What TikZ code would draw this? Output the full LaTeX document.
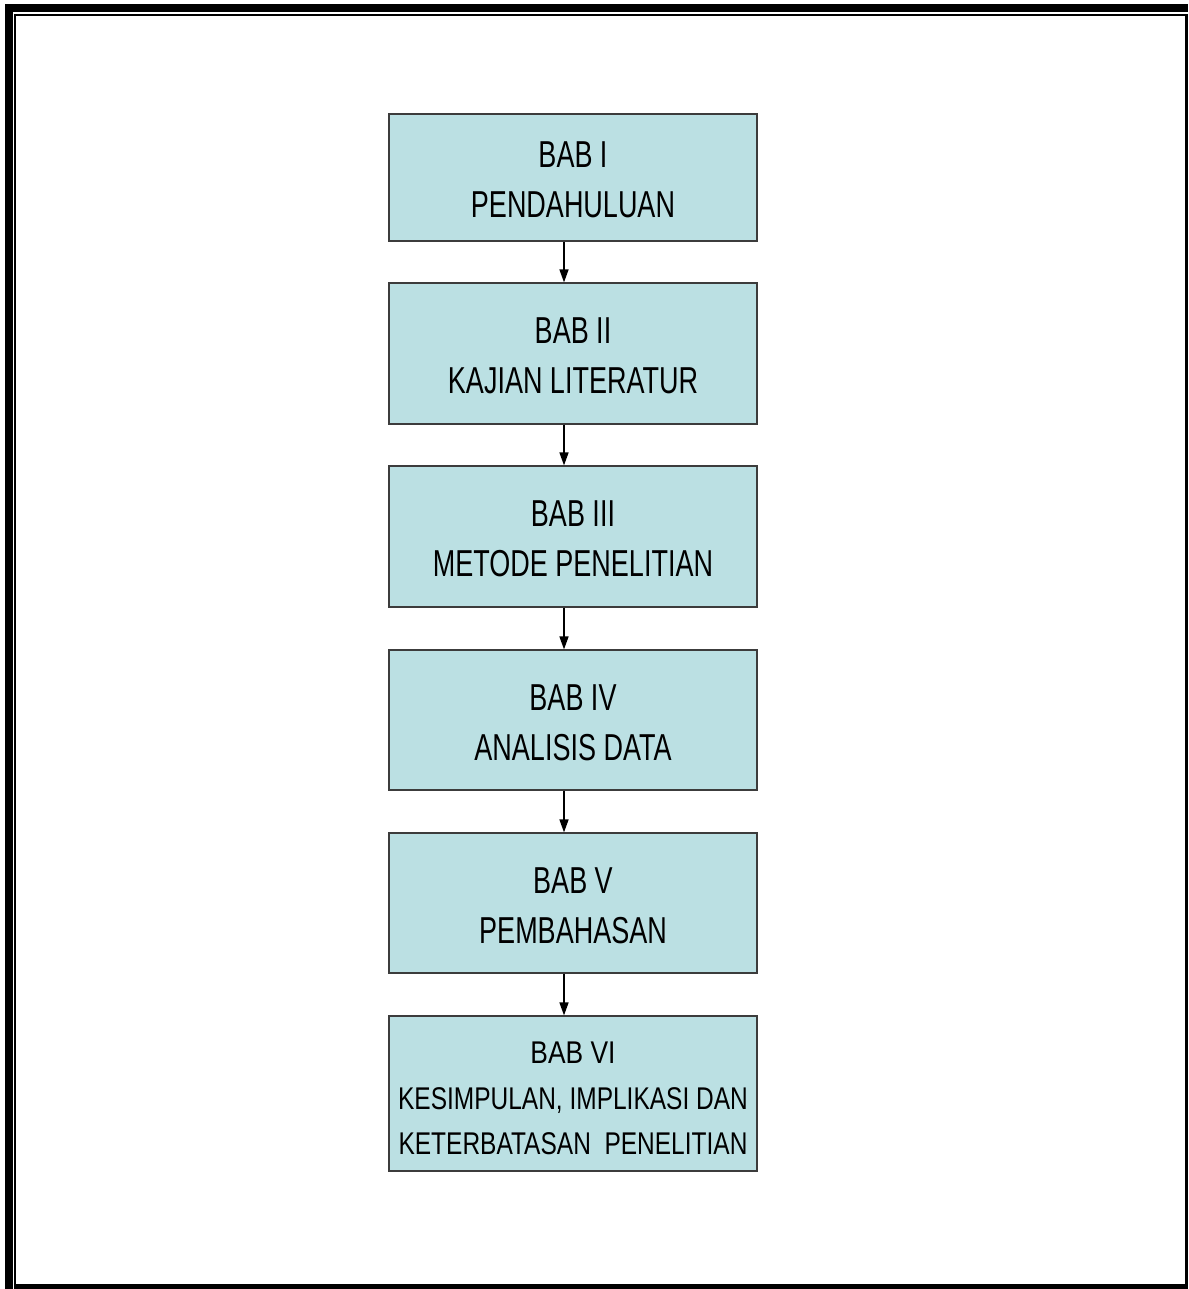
\documentclass[tikz,border=0pt]{standalone}
\usepackage{fontspec}
\usetikzlibrary{arrows.meta}
\newfontfamily\chapfont[FakeStretch=0.72]{Liberation Sans}
\newfontfamily\chapfontwide[FakeStretch=0.78]{Liberation Sans}
\newfontfamily\chapfontwider[FakeStretch=0.84]{Liberation Sans}
\definecolor{boxfill}{RGB}{187,224,227}
\definecolor{boxline}{RGB}{60,60,60}
\tikzset{
  chapbox/.style={draw=boxline, line width=1.2pt, fill=boxfill,
    minimum width=368pt, inner sep=0pt},
  chaptext/.style={inner sep=0pt, align=center,
    font=\chapfont\fontsize{37.5}{50}\selectfont},
  lasttext/.style={chaptext, font=\chapfontwide\fontsize{31.4}{45.5}\selectfont},
  flow/.style={line width=1.5pt, -{Triangle[length=13pt,width=9pt]}},
  framebar/.style={fill=black, draw=none}
}
\begin{document}
\begin{tikzpicture}[x=1pt,y=-1pt]
\useasboundingbox (0,0) rectangle (1188,1289);
% page border: thick outer frame, thin inner frame
\fill[framebar] (5,4) rectangle (13,1289);
\fill[framebar] (5,4) rectangle (1188,12);
\fill[framebar] (14,14) rectangle (16,1289);
\fill[framebar] (14,14) rectangle (1185,16);
\fill[framebar] (1185,14) rectangle (1188,1289);
\fill[framebar] (14,1284) rectangle (1188,1289);
% chapter boxes
\node[chapbox, minimum height=127pt] (b1) at (573,177.5) {};
\node[chapbox, minimum height=141pt] (b2) at (573,353.5) {};
\node[chapbox, minimum height=141pt] (b3) at (573,536.5) {};
\node[chapbox, minimum height=140pt] (b4) at (573,720) {};
\node[chapbox, minimum height=140pt] (b5) at (573,903) {};
\node[chapbox, minimum height=155pt] (b6) at (573,1093.5) {};
% chapter titles
\node[chaptext] (t1) at ([yshift=-2.5pt]b1.center) {BAB I\\PENDAHULUAN};
\node[chaptext] (t2) at ([yshift=-2.5pt]b2.center) {BAB II\\KAJIAN LITERATUR};
\node[chaptext] (t3) at ([yshift=-2.5pt]b3.center) {BAB III\\METODE PENELITIAN};
\node[chaptext] (t4) at ([yshift=-2.5pt]b4.center) {BAB IV\\ANALISIS DATA};
\node[chaptext] (t5) at ([yshift=-2.5pt]b5.center) {BAB V\\PEMBAHASAN};
\node[lasttext] (t6) at ([yshift=-5pt]b6.center) {{\chapfontwider BAB VI}\\KESIMPULAN, IMPLIKASI DAN\\KETERBATASAN\ \ PENELITIAN};
% connectors
\coordinate (ax) at (564,0);
\draw[flow] (b1.south -| ax) -- (b2.north -| ax);
\draw[flow] (b2.south -| ax) -- (b3.north -| ax);
\draw[flow] (b3.south -| ax) -- (b4.north -| ax);
\draw[flow] (b4.south -| ax) -- (b5.north -| ax);
\draw[flow] (b5.south -| ax) -- (b6.north -| ax);
\end{tikzpicture}
\end{document}
